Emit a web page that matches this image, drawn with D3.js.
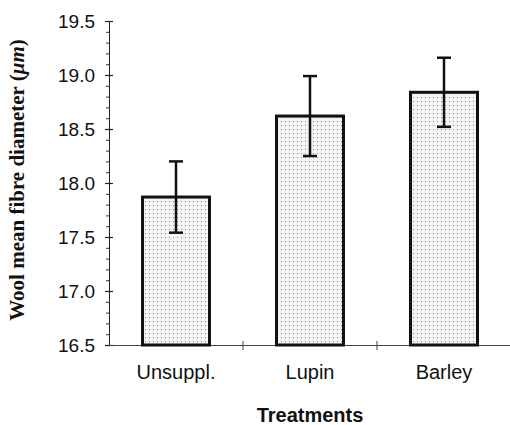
<!DOCTYPE html>
<head>
    <meta charset="utf-8">
    <style>
        body { margin: 0; background: #fff; }
        .tick text { font-family: Arial, "Liberation Sans", sans-serif; }
    </style>
    <script src="https://d3js.org/d3.v7.min.js"></script>
</head>
<body>
    <div id="block"></div>
    <script>

        // data
        var treatments = ["Unsuppl.", "Lupin", "Barley"];
        var meanDiameter = [17.87, 18.62, 18.84];
        var errorBar = [0.33, 0.37, 0.32];
        var yTicks = [16.5, 17.0, 17.5, 18.0, 18.5, 19.0, 19.5];

        var w = 510,
            h = 425;

        var data = treatments.map(function(t, i) {
            return { name: t, mean: meanDiameter[i], err: errorBar[i] };
        });

        var svg = d3.select("#block")
                    .append("svg")
                    .attr("width", w)
                    .attr("height", h);

        // dotted fill like the printed figure
        var pattern = svg.append("defs")
            .append("pattern")
            .attr("id", "dots")
            .attr("patternUnits", "userSpaceOnUse")
            .attr("width", 4)
            .attr("height", 4);
        pattern.append("rect").attr("width", 4).attr("height", 4).attr("fill", "#f4f4f4");
        pattern.append("rect").attr("x", 1).attr("y", 1).attr("width", 1).attr("height", 1).attr("fill", "#8a8a8a");

        var x = d3.scaleBand()
                  .domain(treatments)
                  .range([109, 511])
                  .paddingInner(0.5)
                  .paddingOuter(0.25);

        var y = d3.scaleLinear()
                  .domain([16.5, 19.5])
                  .range([345, 21]);

        var format = d3.format(".1f");

        // minor ticks on y
        svg.append("g")
           .attr("transform", "translate(109,0)")
           .call(d3.axisLeft(y).tickValues(d3.range(16.6, 19.45, 0.1)).tickSize(3).tickFormat(""))
           .call(function(g) { g.select(".domain").remove(); })
           .selectAll("line").attr("stroke", "#333");

        // major ticks on y
        var yAxis = svg.append("g")
           .attr("transform", "translate(109,0)")
           .call(d3.axisLeft(y).tickValues(yTicks).tickSize(4).tickPadding(10).tickFormat(format).tickSizeOuter(0));

        yAxis.select(".domain").attr("stroke", "#222");
        yAxis.selectAll(".tick line").attr("x2", 4).attr("x1", -4).attr("stroke", "#222").attr("stroke-width", 1.2);
        yAxis.selectAll(".tick text")
             .style("font-size", "19px")
             .attr("fill", "#111");

        // x axis
        var xAxis = svg.append("g")
           .attr("transform", "translate(0,345)")
           .call(d3.axisBottom(x).tickSize(0).tickPadding(20).tickSizeOuter(0));

        xAxis.select(".domain").attr("stroke", "#444").attr("stroke-width", 1);
        xAxis.selectAll(".tick text")
             .style("font-size", "20px")
             .attr("fill", "#111");

        // category separators on the x axis
        var gap = (x.step() - x.bandwidth()) / 2;
        svg.append("g")
           .selectAll("line")
           .data(treatments.slice(1))
           .enter()
           .append("line")
           .attr("x1", function(d) { return x(d) - gap; })
           .attr("x2", function(d) { return x(d) - gap; })
           .attr("y1", 341)
           .attr("y2", 350)
           .attr("stroke", "#444");

        // bars
        svg.append("g")
           .selectAll("rect")
           .data(data)
           .enter()
           .append("rect")
           .attr("x", function(d) { return x(d.name); })
           .attr("y", function(d) { return y(d.mean); })
           .attr("width", x.bandwidth())
           .attr("height", function(d) { return y(16.5) - y(d.mean); })
           .attr("fill", "url(#dots)")
           .attr("stroke", "#111")
           .attr("stroke-width", 3);

        // error bars
        var err = svg.append("g")
           .selectAll("g")
           .data(data)
           .enter()
           .append("g")
           .attr("stroke", "#111")
           .attr("stroke-width", 2.5);

        err.append("line")
           .attr("x1", function(d) { return x(d.name) + x.bandwidth() / 2; })
           .attr("x2", function(d) { return x(d.name) + x.bandwidth() / 2; })
           .attr("y1", function(d) { return y(d.mean + d.err); })
           .attr("y2", function(d) { return y(d.mean - d.err); });

        [1, -1].forEach(function(s) {
            err.append("line")
               .attr("x1", function(d) { return x(d.name) + x.bandwidth() / 2 - 7; })
               .attr("x2", function(d) { return x(d.name) + x.bandwidth() / 2 + 7; })
               .attr("y1", function(d) { return y(d.mean + s * d.err); })
               .attr("y2", function(d) { return y(d.mean + s * d.err); });
        });

        // axis titles
        svg.append("text")
           .attr("x", 310)
           .attr("y", 422)
           .attr("text-anchor", "middle")
           .style("font-family", "Arial, 'Liberation Sans', sans-serif")
           .style("font-size", "20px")
           .style("font-weight", "bold")
           .attr("fill", "#111")
           .text("Treatments");

        var ylab = svg.append("text")
           .attr("transform", "translate(24,180) rotate(-90)")
           .attr("text-anchor", "middle")
           .style("font-family", "'Liberation Serif', 'Times New Roman', serif")
           .style("font-size", "21px")
           .style("font-weight", "bold")
           .attr("fill", "#111");
        ylab.append("tspan").text("Wool mean fibre diameter (");
        ylab.append("tspan").style("font-style", "italic").text("\u03bcm");
        ylab.append("tspan").text(")");

    </script>
</body>
